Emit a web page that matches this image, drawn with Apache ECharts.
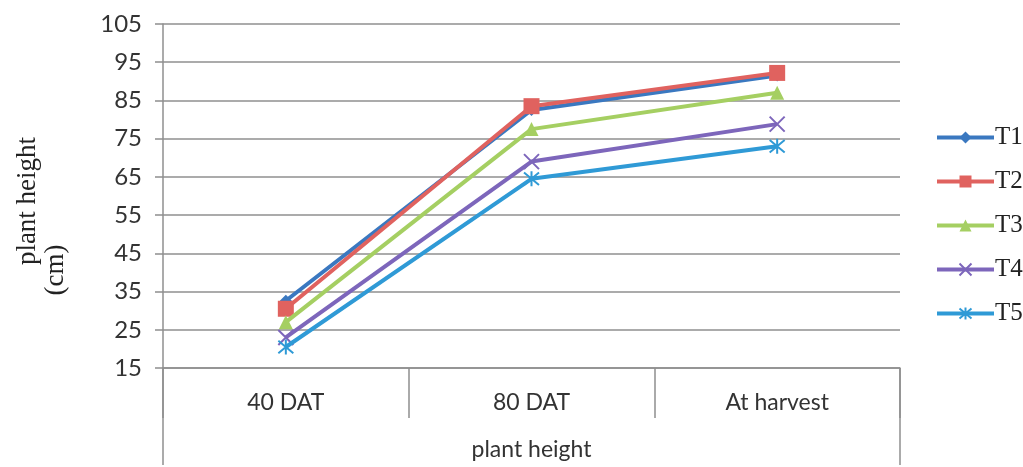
<!DOCTYPE html>
<html>
<head>
<meta charset="utf-8">
<script src="https://cdn.jsdelivr.net/npm/echarts@6/dist/echarts.min.js"></script>
<style>
html,body{margin:0;padding:0;background:#fff;}
#c{width:1023px;height:467px;}
</style>
</head>
<body>
<div id="c"></div>
<script>
const categories = ['40 DAT', '80 DAT', 'At harvest'];
const T1 = [32.6, 82.5, 91.5];
const T2 = [30.5, 83.5, 92.2];
const T3 = [27.0, 77.5, 87.0];
const T4 = [23.0, 69.0, 78.8];
const T5 = [20.5, 64.5, 73.0];
const seriesNames = ['T1', 'T2', 'T3', 'T4', 'T5'];
const yTicks = [15, 25, 35, 45, 55, 65, 75, 85, 95, 105];

const W = 1023, H = 467;
const G = {left: 163, right: 123, top: 24, bottom: 99, containLabel: false, outerBoundsMode: 'none'};
const colors = ['#3a78c0', '#e0625f', '#a5cf62', '#7d66bb', '#2f9ad6'];
const symbols = [
  'diamond', 'rect', 'triangle',
  'path://M0,0L10,10M10,0L0,10',
  'path://M0,0L10,10M10,0L0,10M5,-1L5,11'
];
const sizes = [12, 16, 14, 15, 15];
const datasets = [T1, T2, T3, T4, T5];

const chart = echarts.init(document.getElementById('c'), null, {renderer: 'canvas'});
const gx0 = G.left, gx1 = W - G.right, gy1 = H - G.bottom;

chart.setOption({
  animation: false,
  backgroundColor: '#ffffff',
  grid: G,
  legend: {
    orient: 'vertical',
    left: 930,
    top: 120,
    itemWidth: 57,
    itemHeight: 15,
    itemGap: 19,
    lineStyle: {width: 4},
    textStyle: {fontFamily: 'Liberation Serif', fontSize: 25, color: '#222', padding: [0, 0, 0, -4]},
    data: seriesNames
  },
  xAxis: {
    type: 'category',
    data: categories,
    boundaryGap: true,
    axisLine: {show: true, lineStyle: {color: '#8f8f8f', width: 1.5}},
    axisTick: {show: true, length: 50, interval: 0, lineStyle: {color: '#8f8f8f', width: 1.5}},
    axisLabel: {fontFamily: 'Lato', fontSize: 23, color: '#333', margin: 23},
    name: 'plant height',
    nameLocation: 'middle',
    nameGap: 70,
    nameTextStyle: {fontFamily: 'Lato', fontSize: 23, color: '#333'}
  },
  yAxis: {
    type: 'value',
    min: yTicks[0],
    max: yTicks[yTicks.length - 1],
    interval: 10,
    axisLine: {show: true, lineStyle: {color: '#8f8f8f', width: 1.5}},
    axisTick: {show: true, length: 8, lineStyle: {color: '#8f8f8f', width: 1.5}},
    axisLabel: {fontFamily: 'Lato', fontSize: 24, color: '#333', margin: 21},
    splitLine: {show: true, lineStyle: {color: '#8f8f8f', width: 1.5}}
  },
  graphic: [
    {type: 'line', shape: {x1: gx0, y1: gy1, x2: gx0, y2: H - 2}, style: {stroke: '#8f8f8f', lineWidth: 1.5}},
    {type: 'line', shape: {x1: gx1, y1: gy1, x2: gx1, y2: H - 2}, style: {stroke: '#8f8f8f', lineWidth: 1.5}},
    {type: 'text', x: 28, y: 201, rotation: Math.PI / 2, style: {text: 'plant height', font: '27px "Liberation Serif"', fill: '#222', align: 'center', verticalAlign: 'middle'}},
    {type: 'text', x: 56, y: 270, rotation: Math.PI / 2, style: {text: '(cm)', font: '27px "Liberation Serif"', fill: '#222', align: 'center', verticalAlign: 'middle'}}
  ],
  series: seriesNames.map((n, i) => ({
    name: n,
    type: 'line',
    data: datasets[i],
    symbol: symbols[i],
    symbolSize: sizes[i],
    showAllSymbol: true,
    lineStyle: {color: colors[i], width: 4},
    itemStyle: i >= 3
      ? {color: colors[i], borderColor: colors[i], borderWidth: 2}
      : {color: colors[i], borderWidth: 0},
    z: 2 + i
  }))
});
</script>
</body>
</html>
